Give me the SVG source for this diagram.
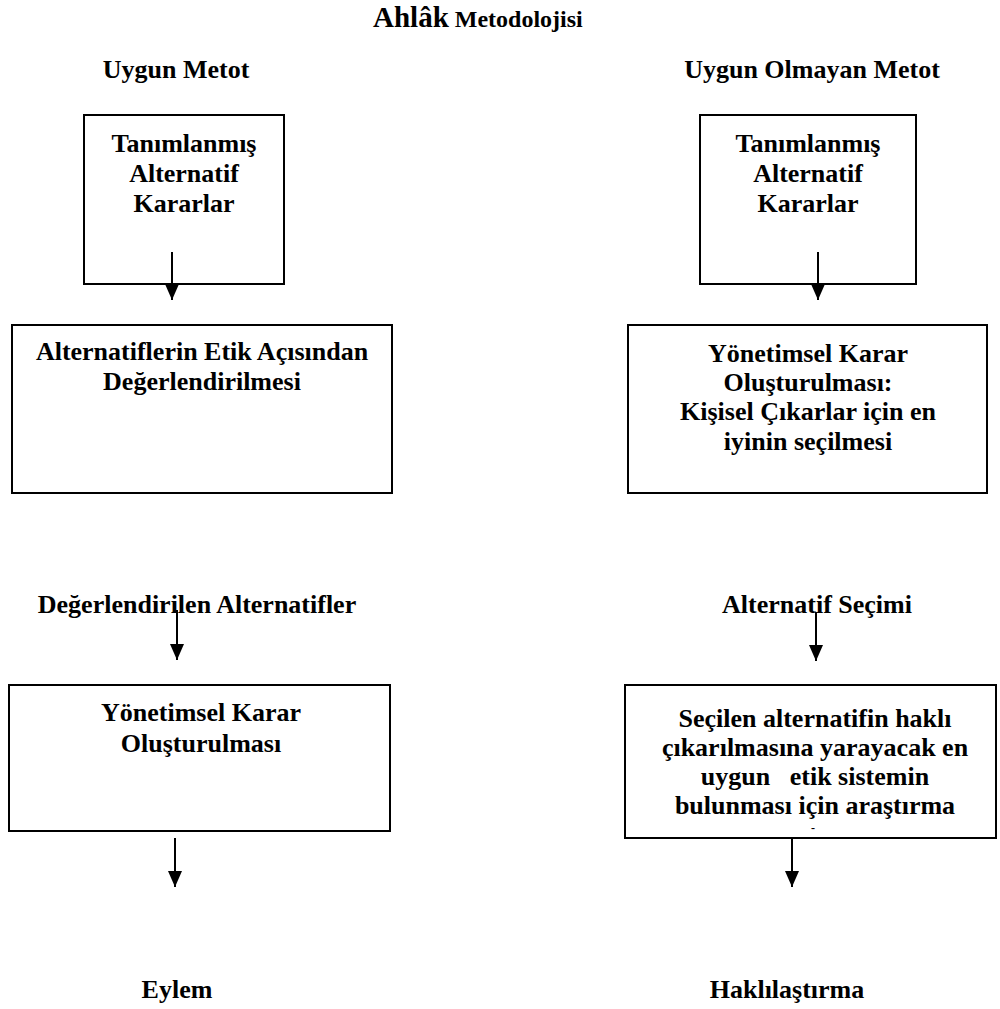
<svg xmlns="http://www.w3.org/2000/svg" width="1000" height="1009" viewBox="0 0 1000 1009">
<style>
text{font-family:'Liberation Serif','DejaVu Serif',serif;font-weight:700;fill:#000}
.t{font-size:26px;text-anchor:middle}
.box{fill:#fff;stroke:#000;stroke-width:2}
.c{stroke:#000;stroke-width:2;fill:none}
</style>
<defs>
<marker id="ah" markerUnits="userSpaceOnUse" markerWidth="16" markerHeight="14" refX="16" refY="7" orient="auto" viewBox="0 0 16 14">
<path d="M0,0 L16,7 L0,14 Z" fill="#000"/>
</marker>
</defs>
<rect width="1000" height="1009" fill="#fff"/>
<g id="title">
<text x="373" y="27"><tspan font-size="29">Ahlâk</tspan><tspan font-size="24"> Metodolojisi</tspan></text>
</g>
<g id="header-left"><text class="t" x="176" y="78">Uygun Metot</text></g>
<g id="header-right"><text class="t" x="812" y="78">Uygun Olmayan Metot</text></g>

<g id="left-1">
<rect class="box" x="84" y="115" width="200" height="169"/>
<text class="t" x="184" y="152">Tanımlanmış</text>
<text class="t" x="184" y="182">Alternatif</text>
<text class="t" x="184" y="212">Kararlar</text>
</g>
<g id="right-1">
<rect class="box" x="700" y="115" width="216" height="169"/>
<text class="t" x="808" y="152">Tanımlanmış</text>
<text class="t" x="808" y="182">Alternatif</text>
<text class="t" x="808" y="212">Kararlar</text>
</g>

<g id="left-2">
<rect class="box" x="12" y="325" width="380" height="168"/>
<text class="t" x="202" y="360">Alternatiflerin Etik Açısından</text>
<text class="t" x="202" y="390">Değerlendirilmesi</text>
</g>
<g id="right-2">
<rect class="box" x="628" y="325" width="359" height="168"/>
<text class="t" x="808" y="362">Yönetimsel Karar</text>
<text class="t" x="808" y="391">Oluşturulması:</text>
<text class="t" x="808" y="420">Kişisel Çıkarlar için en</text>
<text class="t" x="808" y="450">iyinin seçilmesi</text>
</g>

<g id="left-label"><text class="t" x="197" y="613">Değerlendirilen Alternatifler</text></g>
<g id="right-label"><text class="t" x="817" y="613">Alternatif Seçimi</text></g>

<g id="left-3">
<rect class="box" x="9" y="685" width="381" height="146"/>
<text class="t" x="201" y="721">Yönetimsel Karar</text>
<text class="t" x="201" y="752">Oluşturulması</text>
</g>
<g id="right-3">
<rect class="box" x="625" y="685" width="371" height="153"/>
<text class="t" x="815" y="727">Seçilen alternatifin haklı</text>
<text class="t" x="815" y="756">çıkarılmasına yarayacak en</text>
<text class="t" x="815" y="785" xml:space="preserve">uygun   etik sistemin</text>
<text class="t" x="815" y="814">bulunması için araştırma</text>
<text x="813" y="832" font-size="12" text-anchor="middle">-</text>
</g>

<g id="left-end"><text class="t" x="177" y="998">Eylem</text></g>
<g id="right-end"><text class="t" x="787" y="998">Haklılaştırma</text></g>

<g id="connectors">
<line class="c" x1="172" y1="252" x2="172" y2="300" marker-end="url(#ah)"/>
<line class="c" x1="818" y1="252" x2="818" y2="300" marker-end="url(#ah)"/>
<line class="c" x1="177" y1="610" x2="177" y2="660" marker-end="url(#ah)"/>
<line class="c" x1="816" y1="612" x2="816" y2="661" marker-end="url(#ah)"/>
<line class="c" x1="175" y1="838" x2="175" y2="887" marker-end="url(#ah)"/>
<line class="c" x1="792" y1="838" x2="792" y2="887" marker-end="url(#ah)"/>
</g>
</svg>
